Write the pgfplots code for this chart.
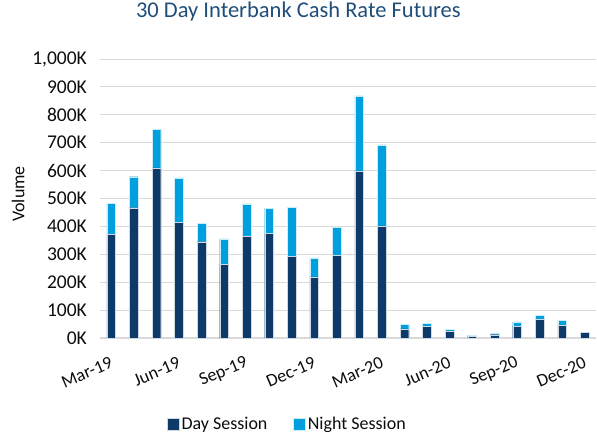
\documentclass[border=0pt]{standalone}
\usepackage{fontspec}
\setmainfont{Carlito}
\usepackage{pgfplots}
\pgfplotsset{compat=1.18}
\definecolor{day}{RGB}{14,58,106}
\definecolor{night}{RGB}{0,160,222}
\definecolor{gridc}{RGB}{217,217,217}
\definecolor{titlec}{RGB}{31,78,121}
\definecolor{txt}{RGB}{13,13,13}
\begin{document}
\begin{tikzpicture}
\useasboundingbox (0,0) rectangle (597pt,434pt);
\begin{axis}[
  at={(100pt,96pt)}, anchor=south west,
  scale only axis, width=496pt, height=279pt,
  xmin=-0.5, xmax=21.5, ymin=0, ymax=1000,
  ybar stacked, bar width=8.7pt,
  axis x line*=bottom, axis y line*=left,
  x axis line style={draw=gridc, line width=1.2pt, -},
  y axis line style={draw=none},
  major tick length=0pt,
  ymajorgrids, grid style={gridc, line width=0.8pt},
  ytick={0,100,...,1000},
  yticklabels={0K,100K,200K,300K,400K,500K,600K,700K,800K,900K,{1,000K}},
  xtick={0,3,...,21},
  xticklabels={Mar-19,Jun-19,Sep-19,Dec-19,Mar-20,Jun-20,Sep-20,Dec-20},
  xticklabel style={xshift=0.5pt, yshift=-24pt, rotate=23, anchor=east, inner sep=0pt,
    font=\fontsize{18}{21}\selectfont, text=txt},
  yticklabel style={inner sep=0pt, xshift=-13pt, font=\fontsize{19.5}{22}\selectfont, text=txt},
  every axis title shift/.style={},
  ylabel={Volume},
  ylabel style={at={(axis description cs:-0.165,0.516)}, anchor=center, font=\fontsize{18}{21}\selectfont, text=txt},
  title={30 Day Interbank Cash Rate Futures},
  title style={at={(axis description cs:0.400,1.1505)}, anchor=center, font=\fontsize{22.5}{26}\selectfont, text=titlec},
  legend columns=2,
  legend style={at={(axis description cs:0.378,-0.308)}, anchor=center, draw=none, fill=none,
    font=\fontsize{18}{21}\selectfont, text=txt, nodes={inner sep=2pt},
    /tikz/every even column/.append style={column sep=24pt}},
  legend image code/.code={\fill[#1] (0pt,-6pt) rectangle (12pt,6pt);},
]
\addplot[fill=day, draw=white!80!day, line width=0.3pt] coordinates {
(0,372) (1,467) (2,610) (3,414) (4,345) (5,263) (6,365) (7,375) (8,292) (9,219) (10,296)
(11,599) (12,402) (13,33) (14,43) (15,23) (16,5) (17,12) (18,43) (19,66) (20,45) (21,21)};
\addlegendentry{Day Session}
\addplot[fill=night, draw=white!80!night, line width=0.3pt] coordinates {
(0,111) (1,111) (2,139) (3,160) (4,67) (5,92) (6,116) (7,90) (8,176) (9,68) (10,101)
(11,269) (12,290) (13,17) (14,10) (15,9) (16,5) (17,5) (18,15) (19,15) (20,19) (21,0)};
\addlegendentry{Night Session}
\end{axis}
\end{tikzpicture}
\end{document}
